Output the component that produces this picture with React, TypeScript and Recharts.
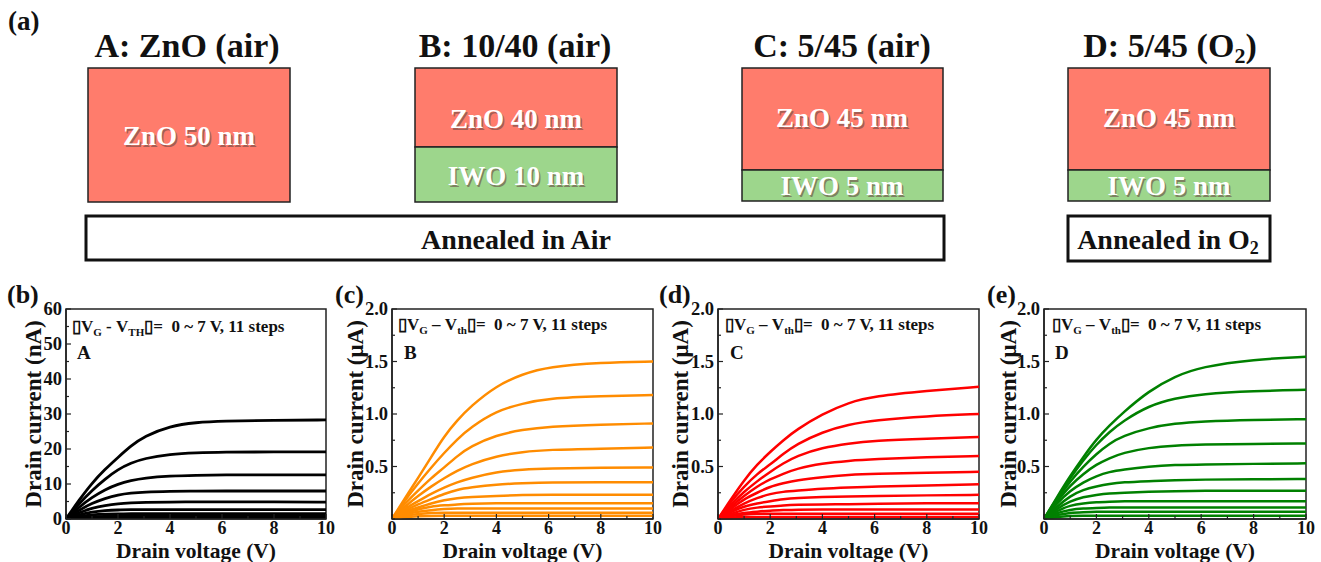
import React from 'react';
import { LineChart, Line, XAxis, YAxis, ReferenceArea } from 'recharts';

const FONT = "'Liberation Serif', 'Times New Roman', Times, serif";

// drain voltage sweep (V)
const drainVoltage = [0, 0.5, 1, 1.5, 2, 2.5, 3, 4, 5, 6, 8, 10];

// A: ZnO (air), drain current in nA, |VG-VTH| high -> low
const curvesA = [
  [0, 5.4, 10.3, 14.2, 17.6, 20.9, 23.6, 26.6, 27.6, 28.0, 28.2, 28.3],
  [0, 4.4, 8.2, 11.4, 14.2, 16.0, 17.3, 18.5, 18.9, 19.1, 19.2, 19.2],
  [0, 3.4, 6.2, 8.4, 10.0, 11.0, 11.7, 12.3, 12.5, 12.6, 12.6, 12.6],
  [0, 2.5, 4.5, 5.9, 6.9, 7.4, 7.7, 7.9, 8.0, 8.0, 8.0, 8.0],
  [0, 1.8, 3.1, 3.9, 4.4, 4.6, 4.75, 4.85, 4.9, 4.9, 4.9, 4.8],
  [0, 1.2, 2.0, 2.4, 2.6, 2.65, 2.7, 2.7, 2.7, 2.7, 2.7, 2.7],
  [0, 0.8, 1.25, 1.42, 1.48, 1.5, 1.5, 1.5, 1.5, 1.5, 1.5, 1.5],
  [0, 0.5, 0.72, 0.78, 0.8, 0.8, 0.8, 0.8, 0.8, 0.8, 0.8, 0.8],
  [0, 0.3, 0.38, 0.4, 0.4, 0.4, 0.4, 0.4, 0.4, 0.4, 0.4, 0.4],
  [0, 0.15, 0.18, 0.18, 0.18, 0.18, 0.18, 0.18, 0.18, 0.18, 0.18, 0.18],
  [0, 0.05, 0.05, 0.05, 0.05, 0.05, 0.05, 0.05, 0.05, 0.05, 0.05, 0.05],
];

// B: 10/40 (air), uA
const curvesB = [
  [0, 0.2, 0.39, 0.59, 0.79, 0.94, 1.07, 1.27, 1.38, 1.45, 1.49, 1.5],
  [0, 0.18, 0.34, 0.49, 0.63, 0.76, 0.87, 1.03, 1.1, 1.15, 1.17, 1.18],
  [0, 0.15, 0.27, 0.39, 0.49, 0.6, 0.69, 0.8, 0.85, 0.88, 0.9, 0.91],
  [0, 0.12, 0.22, 0.31, 0.39, 0.46, 0.52, 0.6, 0.64, 0.66, 0.67, 0.68],
  [0, 0.1, 0.17, 0.24, 0.3, 0.35, 0.39, 0.45, 0.47, 0.48, 0.49, 0.49],
  [0, 0.08, 0.14, 0.19, 0.24, 0.28, 0.3, 0.33, 0.34, 0.35, 0.35, 0.35],
  [0, 0.07, 0.11, 0.15, 0.18, 0.2, 0.21, 0.22, 0.23, 0.23, 0.23, 0.23],
  [0, 0.06, 0.09, 0.12, 0.13, 0.14, 0.145, 0.15, 0.15, 0.15, 0.15, 0.15],
  [0, 0.045, 0.07, 0.085, 0.095, 0.1, 0.1, 0.1, 0.1, 0.1, 0.1, 0.1],
  [0, 0.03, 0.05, 0.058, 0.06, 0.06, 0.06, 0.06, 0.06, 0.06, 0.06, 0.06],
  [0, 0.02, 0.028, 0.03, 0.03, 0.03, 0.03, 0.03, 0.03, 0.03, 0.03, 0.03],
];

// C: 5/45 (air), uA
const curvesC = [
  [0, 0.19, 0.37, 0.52, 0.64, 0.75, 0.85, 1.0, 1.11, 1.17, 1.22, 1.26],
  [0, 0.17, 0.31, 0.43, 0.52, 0.62, 0.71, 0.83, 0.9, 0.94, 0.98, 1.0],
  [0, 0.14, 0.26, 0.36, 0.45, 0.53, 0.6, 0.68, 0.72, 0.745, 0.765, 0.78],
  [0, 0.12, 0.22, 0.31, 0.38, 0.43, 0.48, 0.53, 0.555, 0.57, 0.59, 0.6],
  [0, 0.1, 0.19, 0.25, 0.31, 0.34, 0.37, 0.4, 0.42, 0.43, 0.44, 0.45],
  [0, 0.08, 0.15, 0.2, 0.24, 0.26, 0.27, 0.29, 0.3, 0.31, 0.32, 0.33],
  [0, 0.07, 0.12, 0.15, 0.17, 0.19, 0.2, 0.21, 0.215, 0.22, 0.225, 0.23],
  [0, 0.05, 0.09, 0.11, 0.12, 0.13, 0.135, 0.14, 0.14, 0.145, 0.15, 0.15],
  [0, 0.04, 0.06, 0.07, 0.08, 0.085, 0.09, 0.09, 0.09, 0.09, 0.09, 0.09],
  [0, 0.03, 0.045, 0.05, 0.05, 0.05, 0.05, 0.05, 0.05, 0.05, 0.05, 0.05],
  [0, 0.015, 0.02, 0.02, 0.02, 0.02, 0.02, 0.02, 0.02, 0.02, 0.02, 0.02],
];

// D: 5/45 (O2), uA
const curvesD = [
  [0, 0.21, 0.41, 0.59, 0.76, 0.89, 1.01, 1.22, 1.36, 1.45, 1.52, 1.545],
  [0, 0.2, 0.39, 0.56, 0.71, 0.83, 0.93, 1.08, 1.15, 1.19, 1.22, 1.23],
  [0, 0.19, 0.36, 0.5, 0.62, 0.72, 0.79, 0.87, 0.91, 0.93, 0.945, 0.95],
  [0, 0.17, 0.32, 0.43, 0.52, 0.58, 0.63, 0.68, 0.7, 0.71, 0.715, 0.72],
  [0, 0.15, 0.27, 0.35, 0.41, 0.45, 0.47, 0.5, 0.515, 0.52, 0.525, 0.53],
  [0, 0.12, 0.22, 0.28, 0.31, 0.335, 0.35, 0.36, 0.37, 0.375, 0.38, 0.38],
  [0, 0.1, 0.17, 0.21, 0.23, 0.245, 0.25, 0.26, 0.265, 0.27, 0.27, 0.27],
  [0, 0.08, 0.13, 0.15, 0.16, 0.165, 0.17, 0.17, 0.17, 0.17, 0.17, 0.17],
  [0, 0.06, 0.09, 0.1, 0.105, 0.11, 0.11, 0.11, 0.11, 0.11, 0.11, 0.11],
  [0, 0.04, 0.06, 0.065, 0.07, 0.07, 0.07, 0.07, 0.07, 0.07, 0.07, 0.07],
  [0, 0.02, 0.03, 0.03, 0.03, 0.03, 0.03, 0.03, 0.03, 0.03, 0.03, 0.03],
];

const voltageTicks = [0, 1, 2, 3, 4, 5, 6, 7, 8, 9, 10];
const voltageLabels = [0, 2, 4, 6, 8, 10];
const nATicks = [0, 5, 10, 15, 20, 25, 30, 35, 40, 45, 50, 55, 60];
const nALabels = [0, 10, 20, 30, 40, 50, 60];
const uATicks = [0, 0.25, 0.5, 0.75, 1, 1.25, 1.5, 1.75, 2];
const uALabels = [0.5, 1, 1.5, 2];

const toRows = (curves: number[][]) =>
  drainVoltage.map((v, i) => {
    const row: any = { v };
    curves.forEach((c, k) => (row['c' + k] = c[i]));
    return row;
  });

const TOP = 29;
const PLOT_H = 210;

const Panel = ({ left, width, yAxisW, right, curves, color, yMax, yTicks, yLabels, fmt, unit, titleX, lineW }: any) => {
  const plotLeft = yAxisW;
  const plotRight = width - right;
  const plotBottom = TOP + PLOT_H;
  const rows = toRows(curves);

  const yTick = (p: any) => {
    const major = yLabels.includes(p.payload.value);
    return (
      <g>
        <line x1={plotLeft} x2={plotLeft + (major ? 5 : 3)} y1={p.y} y2={p.y} stroke="#222" strokeWidth={1.2} />
        {major && (
          <text x={plotLeft - 4} y={p.y} dy="0.35em" textAnchor="end" fontFamily={FONT} fontWeight="bold" fontSize={18.5} fill="#111">
            {fmt(p.payload.value)}
          </text>
        )}
      </g>
    );
  };
  const xTick = (p: any) => {
    const major = voltageLabels.includes(p.payload.value);
    return (
      <g>
        <line x1={p.x} x2={p.x} y1={plotBottom} y2={plotBottom - (major ? 5 : 3)} stroke="#222" strokeWidth={1.2} />
        {major && (
          <text x={p.x} y={plotBottom + 15} textAnchor="middle" fontFamily={FONT} fontWeight="bold" fontSize={18} fill="#111">
            {p.payload.value}
          </text>
        )}
      </g>
    );
  };

  return (
    <div style={{ position: 'absolute', left, top: 280, width, height: 282 }}>
      <LineChart width={width} height={282} data={rows} margin={{ top: TOP, right, bottom: 0, left: 0 }}>
        <XAxis
          dataKey="v"
          type="number"
          domain={[0, 10]}
          ticks={voltageTicks}
          interval={0}
          tick={xTick}
          tickLine={false}
          axisLine={{ stroke: '#222', strokeWidth: 1.5 }}
          height={282 - TOP - PLOT_H}
          label={() => (
            <text x={(plotLeft + plotRight) / 2} y={277.5} textAnchor="middle" fontFamily={FONT} fontWeight="bold" fontSize={21.5} fill="#111">
              Drain voltage (V)
            </text>
          )}
        />
        <YAxis
          type="number"
          domain={[0, yMax]}
          ticks={yTicks}
          interval={0}
          tick={yTick}
          tickLine={false}
          axisLine={{ stroke: '#222', strokeWidth: 1.5 }}
          width={yAxisW}
          allowDataOverflow
          label={() => (
            <text
              x={titleX}
              y={TOP + PLOT_H / 2}
              dy="0.35em"
              textAnchor="middle"
              transform={`rotate(-90 ${titleX} ${TOP + PLOT_H / 2})`}
              fontFamily={FONT}
              fontWeight="bold"
              fontSize={23}
              fill="#111"
            >
              {`Drain current (${unit})`}
            </text>
          )}
        />
        <ReferenceArea x1={0} x2={10} y1={0} y2={yMax} fill="none" stroke="#222" strokeWidth={1.5} ifOverflow="visible" />
        {curves.map((_: number[], k: number) => (
          <Line
            key={k}
            dataKey={'c' + k}
            type="basis"
            stroke={color}
            strokeWidth={lineW}
            dot={false}
            activeDot={false}
            isAnimationActive={false}
          />
        ))}
      </LineChart>
    </div>
  );
};

const fmtNa = (v: number) => String(v);
const fmtUa = (v: number) => v.toFixed(1);

const SALMON = '#FF7C6C';
const GREEN = '#9DD68C';

const ShadowText = ({ x, y, children, size = 27 }: any) => (
  <g fontFamily={FONT} fontWeight="bold" fontSize={size} textAnchor="middle">
    <text x={x + 1.5} y={y + 1.5} fill="#6b4a45" opacity={0.6}>{children}</text>
    <text x={x} y={y} fill="#fff">{children}</text>
  </g>
);

const Annot = ({ x, y, dash, sub }: any) => (
  <text x={x} y={y} fontFamily={FONT} fontWeight="bold" fontSize={17} fill="#111">
    <tspan>{'\u25AFV'}</tspan>
    <tspan fontSize={11} dy={4}>G</tspan>
    <tspan dy={-4}>{`\u00A0${dash}\u00A0V`}</tspan>
    <tspan fontSize={11} dy={4}>{sub}</tspan>
    <tspan dy={-4}>{'\u25AF=\u00A0\u00A00 ~ 7 V, 11 steps'}</tspan>
  </text>
);

export default function App() {
  return (
    <div style={{ position: 'absolute', left: 0, top: 0, width: 1321, height: 562, background: '#fff', overflow: 'hidden' }}>
      <style>{'.recharts-surface { overflow: visible; }'}</style>
      <Panel left={0} width={340} yAxisW={66} right={14} curves={curvesA} color="#000" yMax={60} yTicks={nATicks} yLabels={nALabels} fmt={fmtNa} unit="nA" titleX={33} lineW={2.8} />
      <Panel left={330} width={330} yAxisW={62} right={7} curves={curvesB} color="#FF8C00" yMax={2} yTicks={uATicks} yLabels={uALabels} fmt={fmtUa} unit="μA" titleX={25} lineW={2.5} />
      <Panel left={655} width={330} yAxisW={63} right={6} curves={curvesC} color="#FF0000" yMax={2} yTicks={uATicks} yLabels={uALabels} fmt={fmtUa} unit="μA" titleX={25} lineW={2.5} />
      <Panel left={985} width={336} yAxisW={59} right={15} curves={curvesD} color="#008000" yMax={2} yTicks={uATicks} yLabels={uALabels} fmt={fmtUa} unit="μA" titleX={23} lineW={2.5} />

      <svg width={1321} height={562} style={{ position: 'absolute', left: 0, top: 0, pointerEvents: 'none' }}>
        <g fontFamily={FONT} fontWeight="bold" fill="#111">
          <text x={8} y={30} fontSize={27}>(a)</text>
          <text x={187} y={57} fontSize={34} textAnchor="middle">A: ZnO (air)</text>
          <text x={515} y={57} fontSize={34} textAnchor="middle">B: 10/40 (air)</text>
          <text x={842} y={57} fontSize={34} textAnchor="middle">C: 5/45 (air)</text>
          <text x={1170} y={57} fontSize={34} textAnchor="middle">
            D: 5/45 (O<tspan fontSize={22} dy={6}>2</tspan><tspan dy={-6}>)</tspan>
          </text>
        </g>
        <g stroke="#222" strokeWidth={1.5}>
          <rect x={88} y={68} width={202} height={134} fill={SALMON} />
          <rect x={415} y={68} width={202} height={79} fill={SALMON} />
          <rect x={415} y={147} width={202} height={55} fill={GREEN} />
          <rect x={742} y={68} width={201} height={102} fill={SALMON} />
          <rect x={742} y={170} width={201} height={31} fill={GREEN} />
          <rect x={1068} y={68} width={202} height={102} fill={SALMON} />
          <rect x={1068} y={170} width={202} height={31} fill={GREEN} />
        </g>
        <ShadowText x={189} y={145}>ZnO 50 nm</ShadowText>
        <ShadowText x={516} y={128}>ZnO 40 nm</ShadowText>
        <ShadowText x={516} y={185}>IWO 10 nm</ShadowText>
        <ShadowText x={842} y={127}>ZnO 45 nm</ShadowText>
        <ShadowText x={842} y={195}>IWO 5 nm</ShadowText>
        <ShadowText x={1169} y={127}>ZnO 45 nm</ShadowText>
        <ShadowText x={1169} y={195}>IWO 5 nm</ShadowText>
        <g fill="none" stroke="#111" strokeWidth={3}>
          <rect x={86} y={216} width={858} height={44} />
          <rect x={1068} y={216} width={202} height={45} />
        </g>
        <g fontFamily={FONT} fontWeight="bold" fill="#111" fontSize={28} textAnchor="middle">
          <text x={516} y={249}>Annealed in Air</text>
          <text x={1168} y={249}>
            Annealed in O<tspan fontSize={18} dy={5}>2</tspan>
          </text>
        </g>

        <g fontFamily={FONT} fontWeight="bold" fill="#111" fontSize={26}>
          <text x={7} y={303}>(b)</text>
          <text x={335} y={303}>(c)</text>
          <text x={659} y={303}>(d)</text>
          <text x={987} y={303}>(e)</text>
        </g>
        <Annot x={72} y={332} dash="-" sub="TH" />
        <Annot x={398} y={330} dash={'\u2013'} sub="th" />
        <Annot x={725} y={330} dash={'\u2013'} sub="th" />
        <Annot x={1052} y={330} dash={'\u2013'} sub="th" />
        <g fontFamily={FONT} fontWeight="bold" fill="#111" fontSize={19}>
          <text x={77} y={359}>A</text>
          <text x={404} y={359}>B</text>
          <text x={730} y={359}>C</text>
          <text x={1055} y={359}>D</text>
        </g>
      </svg>
    </div>
  );
}
